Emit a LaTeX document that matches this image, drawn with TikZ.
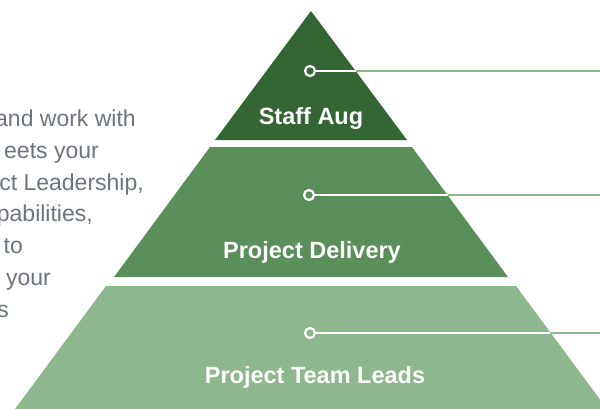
\documentclass[tikz,border=0pt]{standalone}
\usepackage{fontspec}
\setmainfont{Liberation Sans}
\definecolor{tierA}{HTML}{336633}
\definecolor{tierB}{HTML}{5A8F5A}
\definecolor{tierC}{HTML}{8DB78D}
\definecolor{bodygray}{HTML}{6B757D}
\tikzset{
  tierlabel/.style={text=white, inner sep=0pt, anchor=base, font=\fontsize{23.5}{28}\selectfont\bfseries},
  bodyline/.style={text=bodygray, inner sep=0pt, anchor=base east, font=\fontsize{23}{27}\selectfont},
  dotnode/.style={circle, draw=white, line width=2.2pt, minimum size=10pt, inner sep=0pt},
  innerlead/.style={draw=white, line width=2.2pt},
  outerlead/.style={draw=tierC, line width=2.8pt},
}
\begin{document}
\begin{tikzpicture}[x=1pt,y=-1pt]
\useasboundingbox (0,0) rectangle (600,408);
% tiers
\fill[tierA] (311,11) -- (407,140) -- (215,140) -- cycle;
\fill[tierB] (210,147) -- (412,147) -- (508,277) -- (114,277) -- cycle;
\fill[tierC] (106,286) -- (516,286) -- (607,409) -- (15,409) -- cycle;
% labels
\node[tierlabel] (lA) at (311,124) {Staff Aug};
\node[tierlabel] (lB) at (312,258) {Project Delivery};
\node[tierlabel] (lC) at (315,383) {Project Team Leads};
% leader coordinates
\coordinate (eA) at (355.5,71);
\coordinate (rA) at (601,71);
\coordinate (eB) at (447.5,195);
\coordinate (rB) at (601,195);
\coordinate (eC) at (550,333);
\coordinate (rC) at (601,333);
% leaders
\draw[outerlead] (eA) -- (rA);
\draw[outerlead] (eB) -- (rB);
\draw[outerlead] (eC) -- (rC);
\node[dotnode, fill=tierA] (dA) at (310,71) {};
\node[dotnode, fill=tierB] (dB) at (309,195) {};
\node[dotnode, fill=tierC] (dC) at (310,333) {};
\draw[innerlead] (dA) -- (eA);
\draw[innerlead] (dB) -- (eB);
\draw[innerlead] (dC) -- (eC);
% body text (cut at the left edge)
\node[bodyline] (t1) at (136,126) {and work with};
\node[bodyline] (t2) at (99,158) {eets your};
\node[bodyline] (t3) at (144,190) {ct Leadership,};
\node[bodyline] (t4) at (93,221) {pabilities,};
\node[bodyline] (t5) at (23,253) {to};
\node[bodyline] (t6) at (51,285) {your};
\node[bodyline] (t7) at (9,317) {s};
\end{tikzpicture}
\end{document}
